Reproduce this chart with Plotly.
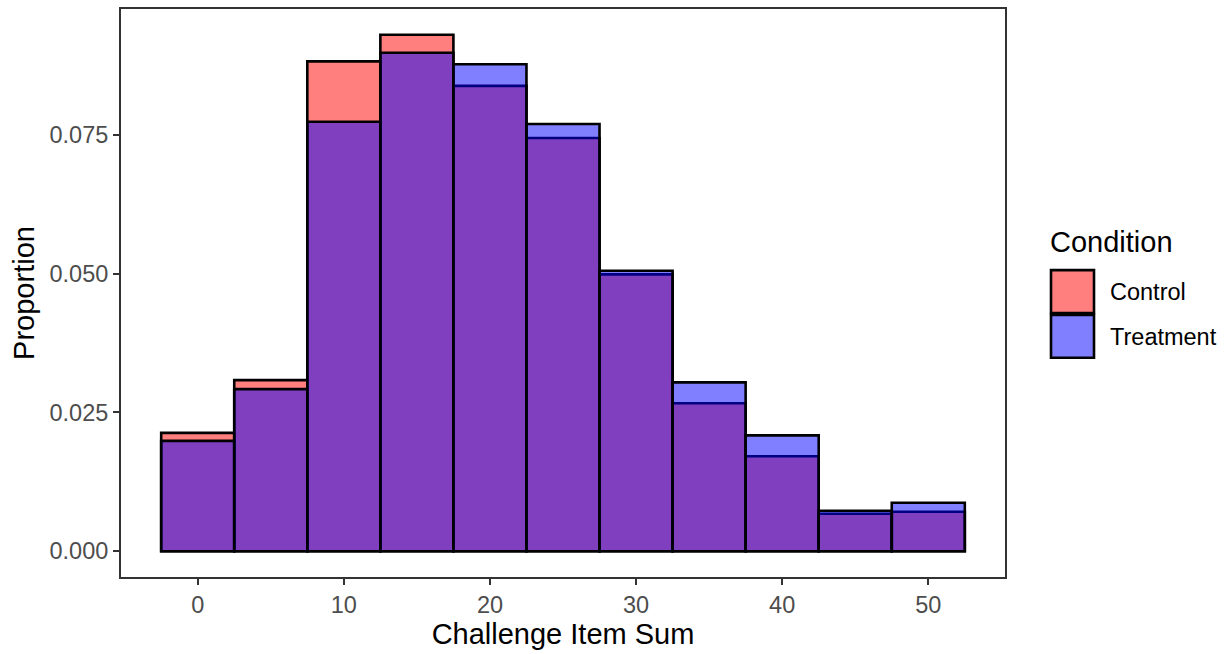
import plotly.graph_objects as go

# Data
bin_centers = [0, 5, 10, 15, 20, 25, 30, 35, 40, 45, 50]
control = [0.02132, 0.03083, 0.08828, 0.09306, 0.08385, 0.07447, 0.04988, 0.02667, 0.01710, 0.00675, 0.00711]
treatment = [0.01988, 0.02921, 0.07739, 0.08983, 0.08775, 0.07698, 0.05053, 0.03043, 0.02087, 0.00729, 0.00872]
x_ticks = [0, 10, 20, 30, 40, 50]
y_ticks = [0.0, 0.025, 0.05, 0.075]
y_tick_labels = ["0.000", "0.025", "0.050", "0.075"]

W, H = 1227, 654
L, R, T, B = 121, 222, 7, 77
FONT = "Liberation Sans, Arial, sans-serif"
TICK_SIZE = 23.5
TITLE_SIZE = 29

fig = go.Figure()
fig.add_trace(go.Bar(x=bin_centers, y=control, width=5, name="Control",
                     marker=dict(color="rgba(255,0,0,0.5)", line=dict(color="black", width=2.6))))
fig.add_trace(go.Bar(x=bin_centers, y=treatment, width=5, name="Treatment",
                     marker=dict(color="rgba(0,0,255,0.5)", line=dict(color="black", width=2.6))))

ymax = max(max(control), max(treatment))
pad = 0.05 * ymax

fig.update_layout(
    width=W, height=H, barmode="overlay", showlegend=False,
    margin=dict(l=L, r=R, t=T, b=B),
    paper_bgcolor="white", plot_bgcolor="white",
    font=dict(family=FONT, color="black"),
    xaxis=dict(range=[-5.25, 55.25], tickvals=x_ticks, showgrid=False, zeroline=False,
               ticks="outside", ticklen=6, tickcolor="#333333", tickwidth=2,
               tickfont=dict(size=TICK_SIZE, color="#4D4D4D"),
               showline=True, linecolor="#333333", linewidth=2, mirror=True,
               title=dict(text="Challenge Item Sum", font=dict(size=TITLE_SIZE, color="black"), standoff=4)),
    yaxis=dict(range=[-pad, ymax + pad], tickvals=y_ticks, ticktext=y_tick_labels,
               showgrid=False, zeroline=False,
               ticks="outside", ticklen=6, tickcolor="#333333", tickwidth=2,
               tickfont=dict(size=TICK_SIZE, color="#4D4D4D"),
               showline=True, linecolor="#333333", linewidth=2, mirror=True,
               title=dict(text="Proportion", font=dict(size=TITLE_SIZE, color="black"), standoff=6)),
)

pw, ph = W - L - R, H - T - B
def px(x):
    return (x - L) / pw
def py(y):
    return (H - B - y) / ph

# Custom ggplot-style legend
fig.add_annotation(xref="paper", yref="paper", x=px(1048), y=py(241), text="Condition",
                   showarrow=False, xanchor="left", yanchor="middle",
                   font=dict(size=TITLE_SIZE, color="black", family=FONT))
keys = [("Control", "rgba(255,0,0,0.5)", 269), ("Treatment", "rgba(0,0,255,0.5)", 314)]
for label, col, top in keys:
    fig.add_shape(type="rect", xref="paper", yref="paper",
                  x0=px(1051), x1=px(1094), y0=py(top + 43), y1=py(top),
                  fillcolor=col, line=dict(color="black", width=2.6))
    fig.add_annotation(xref="paper", yref="paper", x=px(1108), y=py(top + 22), text=label,
                       showarrow=False, xanchor="left", yanchor="middle",
                       font=dict(size=TICK_SIZE, color="black", family=FONT))

fig.write_html("out.html")
